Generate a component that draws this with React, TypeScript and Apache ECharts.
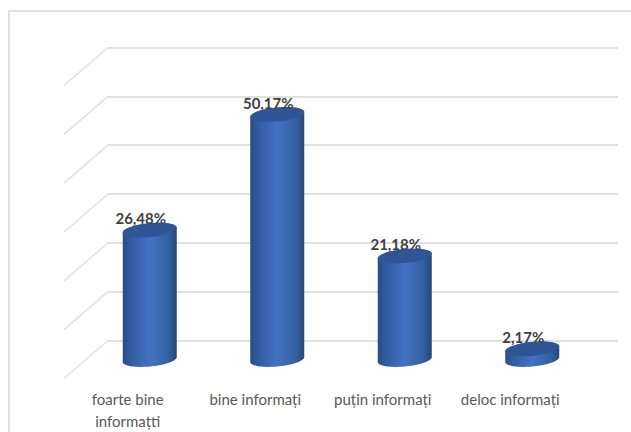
import React, { useEffect, useRef } from "react";
import * as echarts from "echarts";

const categories = ["foarte bine\ninformațti", "bine informați", "puțin informați", "deloc informați"];
const values = [26.48, 50.17, 21.18, 2.17];
const ticks = [0, 10, 20, 30, 40, 50, 60];

const FONT = 'Lato, "Liberation Sans", sans-serif';
const DEPTH_X = 44;
const DEPTH_Y = 38;
const RX = 27;
const RY = 7;
const TILT = -0.09;

function ellipsePts(cx: number, cy: number, from: number, to: number) {
  const pts: number[][] = [];
  const n = 40;
  for (let i = 0; i <= n; i++) {
    const t = from + ((to - from) * i) / n;
    const ex = RX * Math.cos(t);
    const ey = RY * Math.sin(t);
    pts.push([cx + ex, cy + ey + TILT * ex]);
  }
  return pts;
}

function renderBar(params: any, api: any) {
  const top = api.coord([api.value(0), api.value(1)]);
  const base = api.coord([api.value(0), 0]);
  const cx = top[0] - DEPTH_X / 2;
  const yt = top[1] + DEPTH_Y / 2;
  const yb = base[1] + DEPTH_Y / 2;
  const body = [
    ...ellipsePts(cx, yb, 0, Math.PI),
    ...ellipsePts(cx, yt, Math.PI, 2 * Math.PI),
  ];
  return {
    type: "group",
    children: [
      {
        type: "polygon",
        shape: { points: body },
        style: {
          fill: new echarts.graphic.LinearGradient(0, 0, 1, 0, [
            { offset: 0, color: "#2a4b82" },
            { offset: 0.12, color: "#30599e" },
            { offset: 0.5, color: "#4472c4" },
            { offset: 0.85, color: "#33609f" },
            { offset: 1, color: "#284677" },
          ]),
        },
      },
      {
        type: "polygon",
        shape: { points: ellipsePts(cx, yt, 0, 2 * Math.PI) },
        style: { fill: "#2f5597" },
      },
      {
        type: "text",
        x: cx - 9,
        y: yt - 12,
        style: {
          text: api.value(1).toFixed(2).replace(".", ",") + "%",
          fill: "#404040",
          font: `bold 15px ${FONT}`,
          align: "center",
          verticalAlign: "middle",
        },
      },
    ],
  };
}

function renderDiagonal(params: any, api: any) {
  const p = api.coord([0, api.value(0)]);
  const x = params.coordSys.x;
  return {
    type: "line",
    shape: { x1: x, y1: p[1], x2: x - DEPTH_X, y2: p[1] + DEPTH_Y },
    style: { stroke: "#e0e0e0", lineWidth: 1.5 },
  };
}

export default function App() {
  const ref = useRef<HTMLDivElement>(null);
  useEffect(() => {
    document.body.style.margin = "0";
    const chart = echarts.init(ref.current!, null, { renderer: "svg" });
    chart.setOption({
      animation: false,
      backgroundColor: "#ffffff",
      graphic: [
        {
          type: "rect",
          shape: { x: 9, y: 11, width: 640, height: 440 },
          style: { fill: "none", stroke: "#e0e0e0", lineWidth: 2 },
          silent: true,
        },
      ],
      grid: [
        { left: 108, top: 47.5, width: 510, height: 293 },
        { left: 64, top: 85.5, width: 510, height: 293 },
      ],
      xAxis: [
        {
          type: "category",
          gridIndex: 0,
          data: categories,
          axisLine: { show: false },
          axisTick: { show: false },
          axisLabel: { show: false },
        },
        {
          type: "category",
          gridIndex: 1,
          data: categories,
          axisLine: { show: false },
          axisTick: { show: false },
          axisLabel: {
            color: "#595959",
            fontSize: 15,
            fontFamily: FONT,
            lineHeight: 22,
            margin: 12,
            interval: 0,
          },
        },
      ],
      yAxis: [
        {
          type: "value",
          gridIndex: 0,
          min: 0,
          max: 60,
          interval: 10,
          axisLine: { show: false },
          axisTick: { show: false },
          axisLabel: { show: false },
          splitLine: { lineStyle: { color: "#e0e0e0", width: 2 } },
        },
        {
          type: "value",
          gridIndex: 1,
          min: 0,
          max: 60,
          interval: 10,
          axisLine: { show: false },
          axisTick: { show: false },
          axisLabel: { show: false },
          splitLine: { show: false },
        },
      ],
      series: [
        {
          type: "custom",
          xAxisIndex: 0,
          yAxisIndex: 0,
          data: ticks.map((t) => [t]),
          encode: { y: 0 },
          renderItem: renderDiagonal,
          silent: true,
          z: 1,
        },
        {
          type: "custom",
          xAxisIndex: 0,
          yAxisIndex: 0,
          data: values.map((v, i) => [i, v]),
          encode: { x: 0, y: 1 },
          renderItem: renderBar,
          z: 3,
        },
      ],
    });
    return () => chart.dispose();
  }, []);
  return <div ref={ref} style={{ width: 631, height: 432 }} />;
}
